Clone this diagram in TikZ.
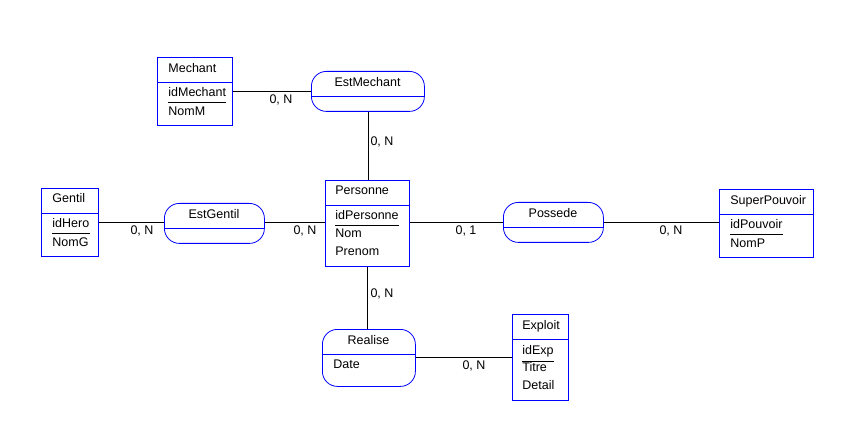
\documentclass[tikz,border=0pt]{standalone}
\usepackage{fontspec}
\setmainfont{Liberation Sans}
\usetikzlibrary{positioning}
\definecolor{merisebleu}{HTML}{0000FF}

\begin{document}
\begin{tikzpicture}[x=1pt, y=-1pt, line width=0.8pt,
    entite/.style={draw=merisebleu, anchor=north west, inner sep=0pt},
    relation/.style={draw=merisebleu, anchor=north west, inner sep=0pt, rounded corners=15pt},
    separe/.style={draw=merisebleu},
    champ/.style={anchor=west, inner xsep=0pt, inner ysep=3.5pt, text height=9.5pt, text depth=2.5pt,
                  font=\fontsize{12.5}{14}\selectfont},
    titre/.style={champ, anchor=center},
    card/.style={inner sep=0pt, font=\fontsize{12.5}{14}\selectfont},
    lien/.style={draw=black}]
\useasboundingbox (0,0) rectangle (843,430);

% entite Mechant
\node[entite, minimum width=75pt, minimum height=68pt] (mechant) at (157,57) {};
\draw[separe] (157,82) -- (232,82);
\node[champ] (tMechant) at (168,69) {Mechant};
\node[champ] (idMechant) at (168,93) {idMechant};
\draw (idMechant.south west) -- (idMechant.south east);
\node[champ] (nomM) at (168,112) {NomM};

% entite Gentil
\node[entite, minimum width=57pt, minimum height=68pt] (gentil) at (41,188) {};
\draw[separe] (41,213) -- (98,213);
\node[champ] (tGentil) at (52,199) {Gentil};
\node[champ] (idHero) at (52,224) {idHero};
\draw (idHero.south west) -- (idHero.south east);
\node[champ] (nomG) at (52,243) {NomG};

% entite Personne
\node[entite, minimum width=84pt, minimum height=86pt] (personne) at (325,180) {};
\draw[separe] (325,205) -- (409,205);
\node[champ] (tPersonne) at (335,191) {Personne};
\node[champ] (idPersonne) at (335,216) {idPersonne};
\draw (idPersonne.south west) -- (idPersonne.south east);
\node[champ] (nom) at (335,234) {Nom};
\node[champ] (prenom) at (335,252) {Prenom};

% entite SuperPouvoir
\node[entite, minimum width=94pt, minimum height=68pt] (superpouvoir) at (719,189) {};
\draw[separe] (719,214) -- (813,214);
\node[champ] (tPouvoir) at (730,201) {SuperPouvoir};
\node[champ] (idPouvoir) at (730,225) {idPouvoir};
\draw (idPouvoir.south west) -- (idPouvoir.south east);
\node[champ] (nomP) at (730,244) {NomP};

% entite Exploit
\node[entite, minimum width=56pt, minimum height=86pt] (exploit) at (512,314) {};
\draw[separe] (512,339) -- (568,339);
\node[champ] (tExploit) at (522,326) {Exploit};
\node[champ] (idExp) at (522,351) {idExp};
\draw (idExp.south west) -- (idExp.south east);
\node[champ] (titre) at (522,368) {Titre};
\node[champ] (detail) at (522,386) {Detail};

% associations
\node[relation, minimum width=113pt, minimum height=40pt] (estmechant) at (311,71) {};
\draw[separe] (311,96) -- (424,96);
\node[titre] at (367.5,83) {EstMechant};

\node[relation, minimum width=100pt, minimum height=40pt] (estgentil) at (164,203) {};
\draw[separe] (164,228) -- (264,228);
\node[titre] at (214,215) {EstGentil};

\node[relation, minimum width=100pt, minimum height=40pt] (possede) at (503,202) {};
\draw[separe] (503,227) -- (603,227);
\node[titre] at (553,214) {Possede};

\node[relation, minimum width=93pt, minimum height=57pt] (realise) at (322,329) {};
\draw[separe] (322,354) -- (415,354);
\node[titre] at (368.5,341) {Realise};
\node[champ] (date) at (333,365) {Date};

% liens et cardinalites
\draw[lien] (mechant.east) -- (mechant.east -| estmechant.west);
\draw[lien] (estmechant.south) -- (estmechant.south |- personne.north);
\draw[lien] (gentil.east) -- (gentil.east -| estgentil.west);
\draw[lien] (estgentil.east |- gentil.east) -- (gentil.east -| personne.west);
\draw[lien] (personne.east |- gentil.east) -- (gentil.east -| possede.west);
\draw[lien] (possede.east |- gentil.east) -- (gentil.east -| superpouvoir.west);
\draw[lien] (personne.south) -- (personne.south |- realise.north);
\draw[lien] (realise.east |- exploit.west) -- (exploit.west);

\node[card] (c1) at (281,100) {0, N};
\node[card] (c2) at (382,142) {0, N};
\node[card] (c3) at (142,231) {0, N};
\node[card] (c4) at (305,231) {0, N};
\node[card] (c5) at (466,231) {0, 1};
\node[card] (c6) at (671,231) {0, N};
\node[card] (c7) at (382,294) {0, N};
\node[card] (c8) at (474,366) {0, N};
\end{tikzpicture}
\end{document}
